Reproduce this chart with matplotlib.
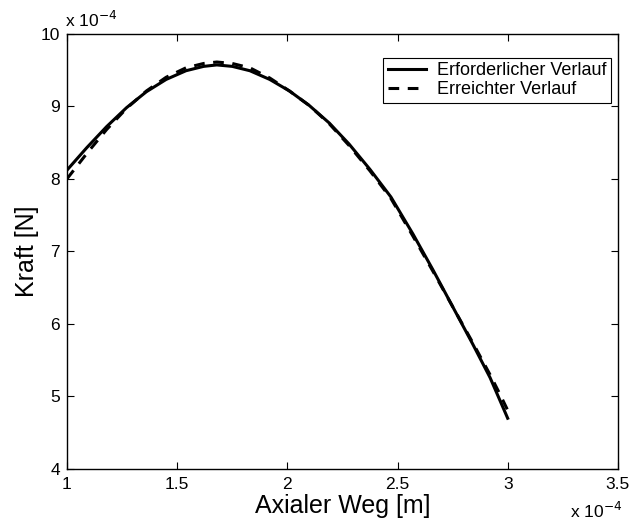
import matplotlib
matplotlib.use('Agg')
import matplotlib.pyplot as plt

# Werte in Einheiten von 1e-4
weg_soll = [1.0, 1.09, 1.18, 1.27, 1.36, 1.45, 1.54, 1.62, 1.68, 1.75, 1.83, 1.92,
            2.01, 2.10, 2.19, 2.28, 2.375, 2.47, 2.57, 2.66, 2.75, 2.84, 2.92, 3.0]
kraft_soll = [8.12, 8.43, 8.72, 8.98, 9.20, 9.37, 9.49, 9.55, 9.57, 9.55, 9.49, 9.37,
              9.21, 9.01, 8.77, 8.48, 8.13, 7.75, 7.24, 6.75, 6.24, 5.73, 5.26, 4.70]

weg_ist = [1.0, 1.09, 1.18, 1.27, 1.36, 1.45, 1.54, 1.62, 1.68, 1.75, 1.83, 1.92,
           2.01, 2.10, 2.19, 2.28, 2.375, 2.47, 2.57, 2.66, 2.75, 2.84, 2.92, 2.965, 3.0]
kraft_ist = [8.00, 8.35, 8.68, 8.97, 9.21, 9.40, 9.53, 9.59, 9.61, 9.59, 9.53, 9.39,
             9.21, 9.01, 8.76, 8.46, 8.11, 7.73, 7.21, 6.73, 6.24, 5.75, 5.30, 5.03, 4.81]

xticks = [1, 1.5, 2, 2.5, 3, 3.5]
yticks = [4, 5, 6, 7, 8, 9, 10]

plt.rcParams['font.family'] = ['Liberation Sans', 'DejaVu Sans']

fig = plt.figure(figsize=(6.35, 5.27), dpi=100)
ax = fig.add_axes([0.1055, 0.110, 0.8675, 0.826])

ax.plot(weg_soll, kraft_soll, 'k-', lw=2.2, label='Erforderlicher Verlauf')
ax.plot(weg_ist, kraft_ist, 'k--', lw=2.2, dashes=(3.5, 2.8), label='Erreichter Verlauf')

ax.set_xlim(1, 3.5)
ax.set_ylim(4, 10)
ax.set_xticks(xticks)
ax.set_xticklabels(['1', '1.5', '2', '2.5', '3', '3.5'])
ax.set_yticks(yticks)
ax.set_yticklabels([str(v) for v in yticks])
ax.tick_params(direction='in', top=True, right=True, length=5, width=0.8, labelsize=12.5)
ax.tick_params(axis='x', pad=6)
ax.tick_params(axis='y', pad=5)
for s in ax.spines.values():
    s.set_linewidth(1.0)

ax.set_xlabel('Axialer Weg [m]', fontsize=18, labelpad=1)
ax.set_ylabel('Kraft [N]', fontsize=18, labelpad=1)

fig.text(0.103, 0.949, r'x 10$^{-4}$', fontsize=12.5, ha='left', va='baseline')
fig.text(0.897, 0.017, r'x 10$^{-4}$', fontsize=12.5, ha='left', va='baseline')

leg = ax.legend(loc='upper right', bbox_to_anchor=(0.987, 0.945), fontsize=13,
                fancybox=False, edgecolor='k', framealpha=1, handlelength=2.1,
                borderpad=0.25, labelspacing=0.1, handletextpad=0.6, borderaxespad=0)
leg.get_frame().set_linewidth(0.8)

fig.savefig('out.png', dpi=100)
